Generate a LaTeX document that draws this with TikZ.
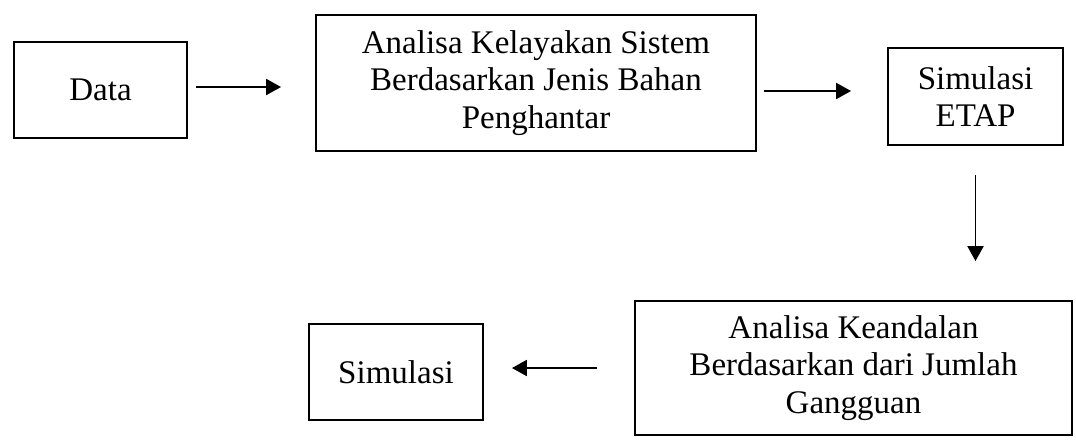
\documentclass[tikz,border=0pt]{standalone}
\usepackage{fontspec}
\setmainfont{Liberation Serif}
\usetikzlibrary{arrows.meta}
\begin{document}
\begin{tikzpicture}[x=0.36364pt,y=-0.36364pt,
  box/.style={draw,line width=0.7pt,align=center,inner sep=0pt,
    font=\fontsize{12}{13.5}\selectfont},
  arr/.style={line width=0.7pt,-{Triangle[length=5.4pt,width=5.8pt]}}]
\useasboundingbox (0,0) rectangle (1076,444);
\node[box,minimum width={173*0.36364pt},minimum height={96*0.36364pt}] (data) at (100.5,90) {Data};
\node[box,minimum width={440*0.36364pt},minimum height={136*0.36364pt}] (anal) at (536,83) {Analisa Kelayakan Sistem\\Berdasarkan Jenis Bahan\\Penghantar};
\node[box,minimum width={175*0.36364pt},minimum height={97*0.36364pt}] (etap) at (975.5,96.5) {Simulasi\\ETAP};
\node[box,minimum width={437*0.36364pt},minimum height={134*0.36364pt}] (kean) at (853.5,368) {Analisa Keandalan\\Berdasarkan dari Jumlah\\Gangguan};
\node[box,minimum width={174*0.36364pt},minimum height={96*0.36364pt}] (sim) at (396,372) {Simulasi};
\draw[arr,shorten <={8*0.36364pt},shorten >={34*0.36364pt}] (data.east |- 0,87) -- (anal.west |- 0,87);
\draw[arr,shorten <={7*0.36364pt},shorten >={36*0.36364pt}] (anal.east |- 0,91) -- (etap.west |- 0,91);
\draw[arr,shorten <={29*0.36364pt},shorten >={39*0.36364pt}] (etap.south) -- (etap.south |- kean.north);
\draw[arr,shorten <={37*0.36364pt},shorten >={28*0.36364pt}] (kean.west |- 0,368) -- (sim.east |- 0,368);
\end{tikzpicture}
\end{document}
